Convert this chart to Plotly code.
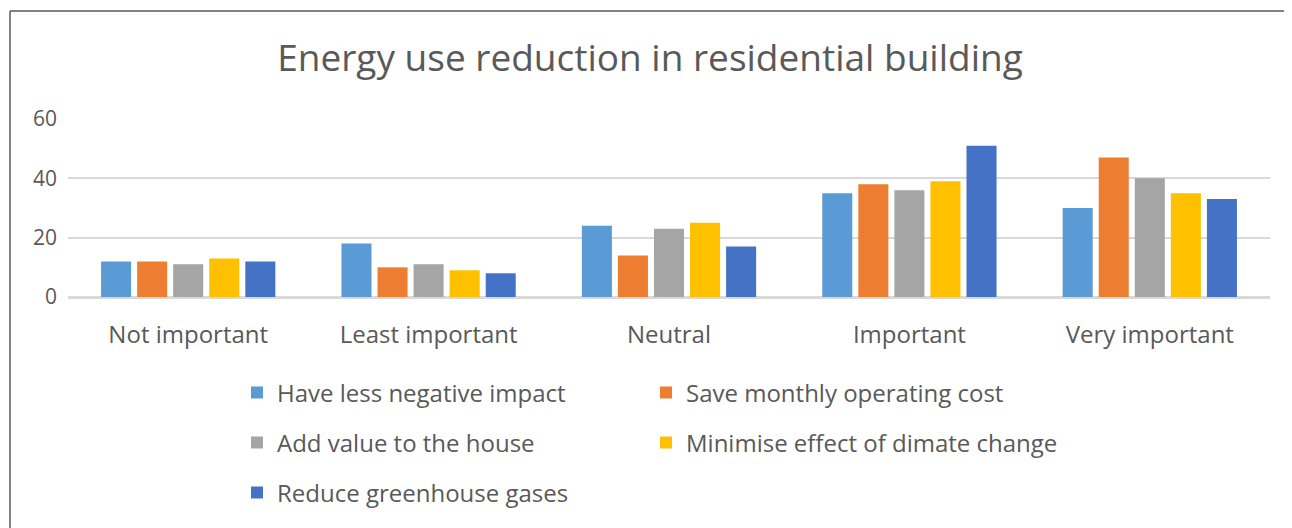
import plotly.graph_objects as go

# survey answers
categories = ["Not important", "Least important", "Neutral", "Important", "Very important"]

series_names = [
    "Have less negative impact",
    "Save monthly operating cost",
    "Add value to the house",
    "Minimise effect of dimate change",
    "Reduce greenhouse gases",
]
less_negative_impact = [12, 18, 24, 35, 30]
save_operating_cost = [12, 10, 14, 38, 47]
add_value_house = [11, 11, 23, 36, 40]
minimise_climate = [13, 9, 25, 39, 35]
reduce_greenhouse = [12, 8, 17, 51, 33]

series_values = [less_negative_impact, save_operating_cost, add_value_house,
                 minimise_climate, reduce_greenhouse]
colors = ["#5B9BD5", "#ED7D31", "#A5A5A5", "#FFC000", "#4472C4"]
# which legend row each series goes in (2 columns like excel)
legend_rows = ["legend", "legend", "legend2", "legend2", "legend3"]
# first column entries get fixed width so the second column lines up
legend_widths = [364, 420, 364, 420, 364]

# page body has an 8px margin, so the figure sits 8px in from the window corner
OFF = 8
W, H = 1292 - OFF, 528 - OFF
ML, MR, MT, MB = 68 - OFF, 22, 119 - OFF, 231
PW = W - ML - MR
PH = H - MT - MB

FONT = "Open Sans"
GREY_TXT = "#595959"

fig = go.Figure()
for name, vals, col, lg, lw in zip(series_names, series_values, colors,
                                   legend_rows, legend_widths):
    fig.add_trace(go.Bar(
        x=categories, y=vals, name=name,
        marker=dict(color=col, line=dict(width=0)),
        legend=lg, legendwidth=lw,
    ))


def py_paper(py):
    # window pixel row -> paper y
    return (H - MB - (py - OFF)) / PH


def px_paper(px):
    # window pixel column -> paper x
    return (px - OFF - ML) / PW


legend_common = dict(
    orientation="h", xanchor="left", yanchor="middle",
    x=px_paper(237),
    font=dict(family=FONT, size=24, color=GREY_TXT),
    bgcolor="rgba(0,0,0,0)", traceorder="normal",
)

fig.update_layout(
    width=W, height=H,
    margin=dict(l=ML, r=MR, t=MT, b=MB, autoexpand=False),
    paper_bgcolor="white", plot_bgcolor="white",
    barmode="group", bargap=0.25, bargroupgap=0.167,
    title=dict(
        text="Energy use reduction in residential building",
        x=0.5, xanchor="center", y=1 - (58 - OFF) / H, yanchor="middle",
        font=dict(family=FONT, size=37, color=GREY_TXT),
    ),
    font=dict(family=FONT, color=GREY_TXT),
    xaxis=dict(
        showgrid=False, showline=True, linecolor="#D9D9D9", linewidth=1.5,
        ticks="", ticklabelstandoff=15,
        tickfont=dict(family=FONT, size=24, color=GREY_TXT),
    ),
    yaxis=dict(
        range=[0, 60], dtick=20, showgrid=True, gridcolor="#D9D9D9", gridwidth=1.5,
        zeroline=True, zerolinecolor="#D9D9D9", zerolinewidth=1.5,
        showline=False, ticks="", ticklabelstandoff=10,
        tickfont=dict(family=FONT, size=21, color=GREY_TXT),
    ),
    legend=dict(legend_common, y=py_paper(393)),
    legend2=dict(legend_common, y=py_paper(443)),
    legend3=dict(legend_common, y=py_paper(493)),
    showlegend=True,
)

# chart frame (left + top edges visible in the screenshot)
frame = dict(color="#595959", width=1.5)
fig.add_shape(type="line", xref="paper", yref="paper",
              x0=px_paper(10), x1=px_paper(10), y0=py_paper(11), y1=py_paper(540),
              line=frame)
fig.add_shape(type="line", xref="paper", yref="paper",
              x0=px_paper(10), x1=px_paper(1300), y0=py_paper(11), y1=py_paper(11),
              line=frame)

fig.write_html("out.html")
